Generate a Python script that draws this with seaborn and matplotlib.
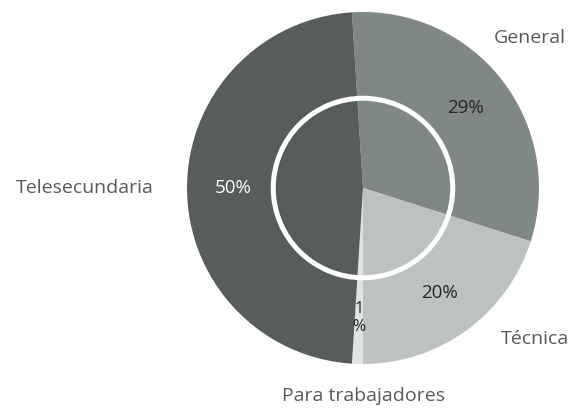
import numpy as np
import matplotlib
matplotlib.use("Agg")
import matplotlib.pyplot as plt
import seaborn as sns

# Data (shares from wedge angles, labels as printed)
categories = ["General", "Técnica", "Para trabajadores", "Telesecundaria"]
shares = [30.9, 20.1, 1.0, 48.0]
pct_labels = ["29%", "20%", "1\n%", "50%"]

colors = ["#7f8885", "#bcc2c1", "#dfe3e2", "#575d5b"]
pct_colors = ["#262626", "#262626", "#262626", "#ffffff"]

sns.set_theme(style="white")
plt.rcParams["font.family"] = ["Open Sans", "DejaVu Sans"]

fig = plt.figure(figsize=(5.8, 4.08), dpi=100)
ax = fig.add_axes([0, 0, 1, 1])

wedges, texts = ax.pie(shares, labels=categories, colors=colors,
                       startangle=93.6, counterclock=False,
                       labeldistance=1.25,
                       wedgeprops=dict(linewidth=0),
                       textprops=dict(fontsize=14, color="#595959"))

# outer label placement as in the reference
label_pos = {"General": (0.95, 0.85), "Técnica": (0.98, -0.86),
             "Para trabajadores": (0.0, -1.18), "Telesecundaria": (-1.58, 0.0)}
for t in texts:
    t.set_position(label_pos[t.get_text()])
    t.set_ha("center")
    t.set_va("center")

# percentage labels inside wedges
for w, lab, c in zip(wedges, pct_labels, pct_colors):
    mid = np.deg2rad((w.theta1 + w.theta2) / 2)
    r = 0.74
    ax.text(r * np.cos(mid), r * np.sin(mid), lab, ha="center", va="center",
            fontsize=13.5 if "\n" not in lab else 11.5, color=c, linespacing=1.2)

# white ring in the middle
ring = plt.Circle((0, 0), 0.51, fill=False, edgecolor="white", linewidth=3.6)
ax.add_patch(ring)

ax.set_xlim(-363 / 176, (580 - 363) / 176)
ax.set_ylim(-(408 - 188) / 176, 188 / 176)
ax.set_aspect("equal")
ax.axis("off")

fig.savefig("out.png", dpi=100)
